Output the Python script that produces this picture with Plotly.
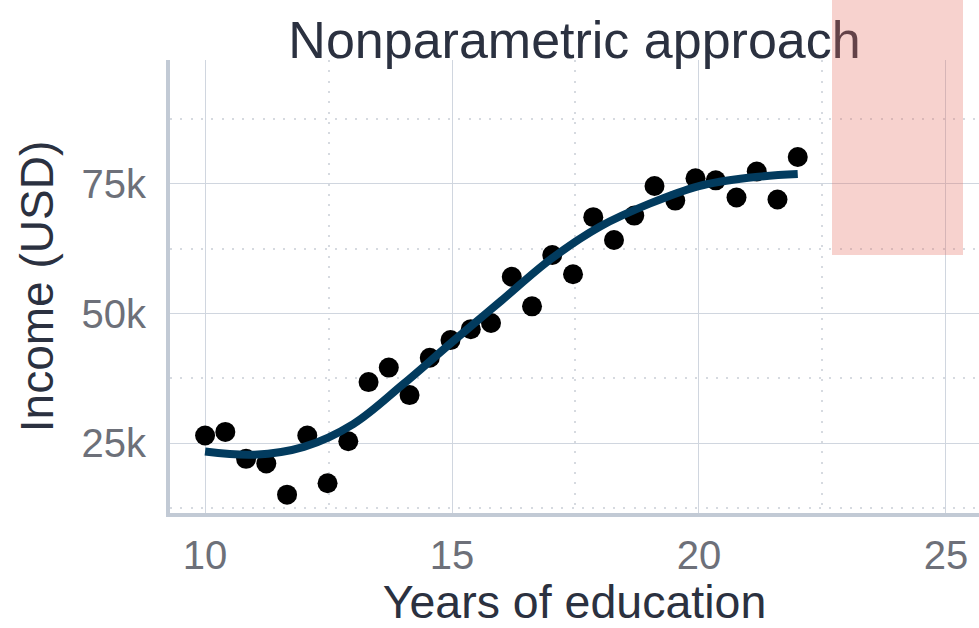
import plotly.graph_objects as go

# ---- data ----
years = [10.0, 10.41, 10.83, 11.24, 11.66, 12.07, 12.48, 12.9, 13.31, 13.72,
         14.14, 14.55, 14.97, 15.38, 15.79, 16.21, 16.62, 17.03, 17.45, 17.86,
         18.28, 18.69, 19.1, 19.52, 19.93, 20.34, 20.76, 21.17, 21.59, 22.0]
income = [26500, 27200, 22000, 21100, 15100, 26500, 17300, 25400, 36800, 39600,
          34300, 41500, 44900, 47000, 48200, 57100, 51400, 61300, 57600, 68600,
          64200, 68900, 74600, 71800, 76100, 75700, 72400, 77400, 72000, 80200]

fit_years = [10, 11, 12, 13, 14, 15, 16, 17, 18, 19, 20, 21, 22]
fit_income = [23400, 22800, 24300, 28700, 36300, 44500, 52500, 60500, 66800,
              71200, 74600, 76200, 76900]

# highlighted region (data coordinates)
highlight_x0 = 22.70
highlight_x1 = 25.35
highlight_y0 = 61300

x_range = [9.29, 25.67]
y_range = [11560, 98900]

title_color = "#2b3140"
tick_color = "#6d7079"
font_family = "Liberation Sans, Arial, Helvetica, sans-serif"

fig = go.Figure()
fig.add_trace(go.Scatter(
    x=years, y=income, mode="markers",
    marker=dict(size=20, color="black", line=dict(width=0)),
    showlegend=False, hoverinfo="skip",
))
fig.add_trace(go.Scatter(
    x=fit_years, y=fit_income, mode="lines",
    line=dict(color="#023b5e", width=8, shape="spline", smoothing=1.0),
    showlegend=False, hoverinfo="skip",
))

axis_common = dict(
    showline=True, linewidth=4, linecolor="#c2cad5",
    showgrid=True, gridcolor="#d0d6df", gridwidth=1,
    zeroline=False, ticks="",
    tickfont=dict(size=40, color=tick_color, family=font_family),
)

fig.update_xaxes(
    **axis_common,
    range=x_range, tick0=0, dtick=5, ticklabelstandoff=4,
    minor=dict(showgrid=True, tick0=0, dtick=2.5, gridcolor="#d6dae0",
               gridwidth=2, griddash="2px,8.3px"),
    title=dict(text="Years of education", standoff=13,
               font=dict(size=46.5, color=title_color, family=font_family)),
)
fig.update_yaxes(
    **axis_common,
    range=y_range, tick0=0, dtick=25000, tickformat="~s", ticklabelstandoff=12,
    minor=dict(showgrid=True, tick0=0, dtick=12500, gridcolor="#d6dae0",
               gridwidth=2, griddash="2px,8.3px"),
    title=dict(text="Income (USD)", standoff=14,
               font=dict(size=46, color=title_color, family=font_family)),
)

fig.add_annotation(
    x=highlight_x0, xref="x", xanchor="left",
    y=highlight_y0, yref="y", yanchor="bottom",
    width=131, height=255, text=" ", showarrow=False,
    bgcolor="rgba(228,105,92,0.3)", borderpad=0, borderwidth=0,
)

fig.update_layout(
    width=979, height=628,
    margin=dict(l=170, r=0, t=60, b=115, autoexpand=False),
    paper_bgcolor="white", plot_bgcolor="white",
    title=dict(text="Nonparametric approach", x=0.5, xref="paper",
               y=1 - 40 / 628, yref="container", yanchor="middle",
               font=dict(size=52, color=title_color, family=font_family)),
    font=dict(family=font_family),
    hovermode=False,
)

fig.write_html("out.html",
               config={"displayModeBar": False, "staticPlot": True},
               post_script="document.body.style.margin='0';"
                           "document.body.style.overflow='hidden';")
